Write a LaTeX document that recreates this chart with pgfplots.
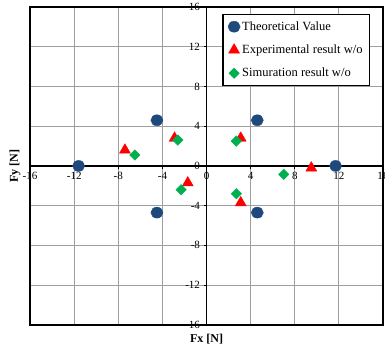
\documentclass[border=0pt]{standalone}
\usepackage{fontspec}
\setmainfont{Liberation Serif}
\usepackage{pgfplots}
\pgfplotsset{compat=1.18}
\definecolor{tblue}{RGB}{31,73,125}
\definecolor{sgreen}{RGB}{0,176,80}
\begin{document}
\begin{tikzpicture}
\begin{axis}[
 scale only axis, width=352pt, height=317pt,
 xmin=-16,xmax=16,ymin=-16,ymax=16,
 axis lines=middle,
 axis line style={line width=1.3pt, -},
 xtick={-16,-12,...,16}, ytick={-16,-12,...,16},
 hide obscured x ticks=false, hide obscured y ticks=false,
 grid=major, grid style={gray!75, line width=1.2pt},
 tick style={black, line width=0.8pt}, tick align=outside, major tick length=3pt,
 ticklabel style={font=\fontsize{11}{11}\selectfont},
 /pgf/number format/assume math mode=true,
 xlabel={\textbf{Fx [N]}}, ylabel={\textbf{Fy [N]}},
 xlabel style={at={(rel axis cs:0.5,0)}, anchor=north, yshift=-6pt, font=\fontsize{12}{12}\selectfont},
 ylabel style={at={(rel axis cs:0,0.5)}, anchor=south, rotate=90, yshift=6pt, font=\fontsize{12}{12}\selectfont},
 legend style={at={(rel axis cs:0.545,0.978)}, anchor=north west, draw=black, line width=1.2pt,
   font=\fontsize{12.5}{13}\selectfont, row sep=9pt, inner sep=5pt},
 legend cell align=left,
 clip=false,
]
\draw[line width=1.6pt] (rel axis cs:0,0) rectangle (rel axis cs:1,1);
\coordinate (ll) at (rel axis cs:0,0);
\coordinate (ur) at (rel axis cs:1,1);
\addplot[only marks, mark=*, mark size=5.5pt, mark options={xscale=1.1, fill=tblue, draw=tblue, line width=0.4pt}]
 coordinates {(-11.6,0) (-4.5,4.6) (4.6,4.6) (11.7,0) (-4.5,-4.7) (4.6,-4.7)};
\addlegendentry{Theoretical Value}
\addplot[only marks, mark=triangle*, mark size=6.3pt, mark options={fill=red, draw=red, line width=0.4pt}]
 coordinates {(-7.4,1.6) (-2.9,2.8) (3.1,2.8) (9.5,-0.2) (-1.7,-1.7) (3.1,-3.7)};
\addlegendentry{Experimental result w/o}
\addplot[only marks, mark=square*, mark size=3.7pt, mark options={rotate=45, fill=sgreen, draw=sgreen, line width=0.4pt}]
 coordinates {(-6.5,1.1) (-2.6,2.6) (2.7,2.5) (7,-0.85) (-2.3,-2.4) (2.7,-2.8)};
\addlegendentry{Simuration result w/o}
\end{axis}
\pgfresetboundingbox
\path ([shift={(-30pt,-30pt)}]ll) rectangle ([shift={(2pt,7pt)}]ur);
\end{tikzpicture}
\end{document}
